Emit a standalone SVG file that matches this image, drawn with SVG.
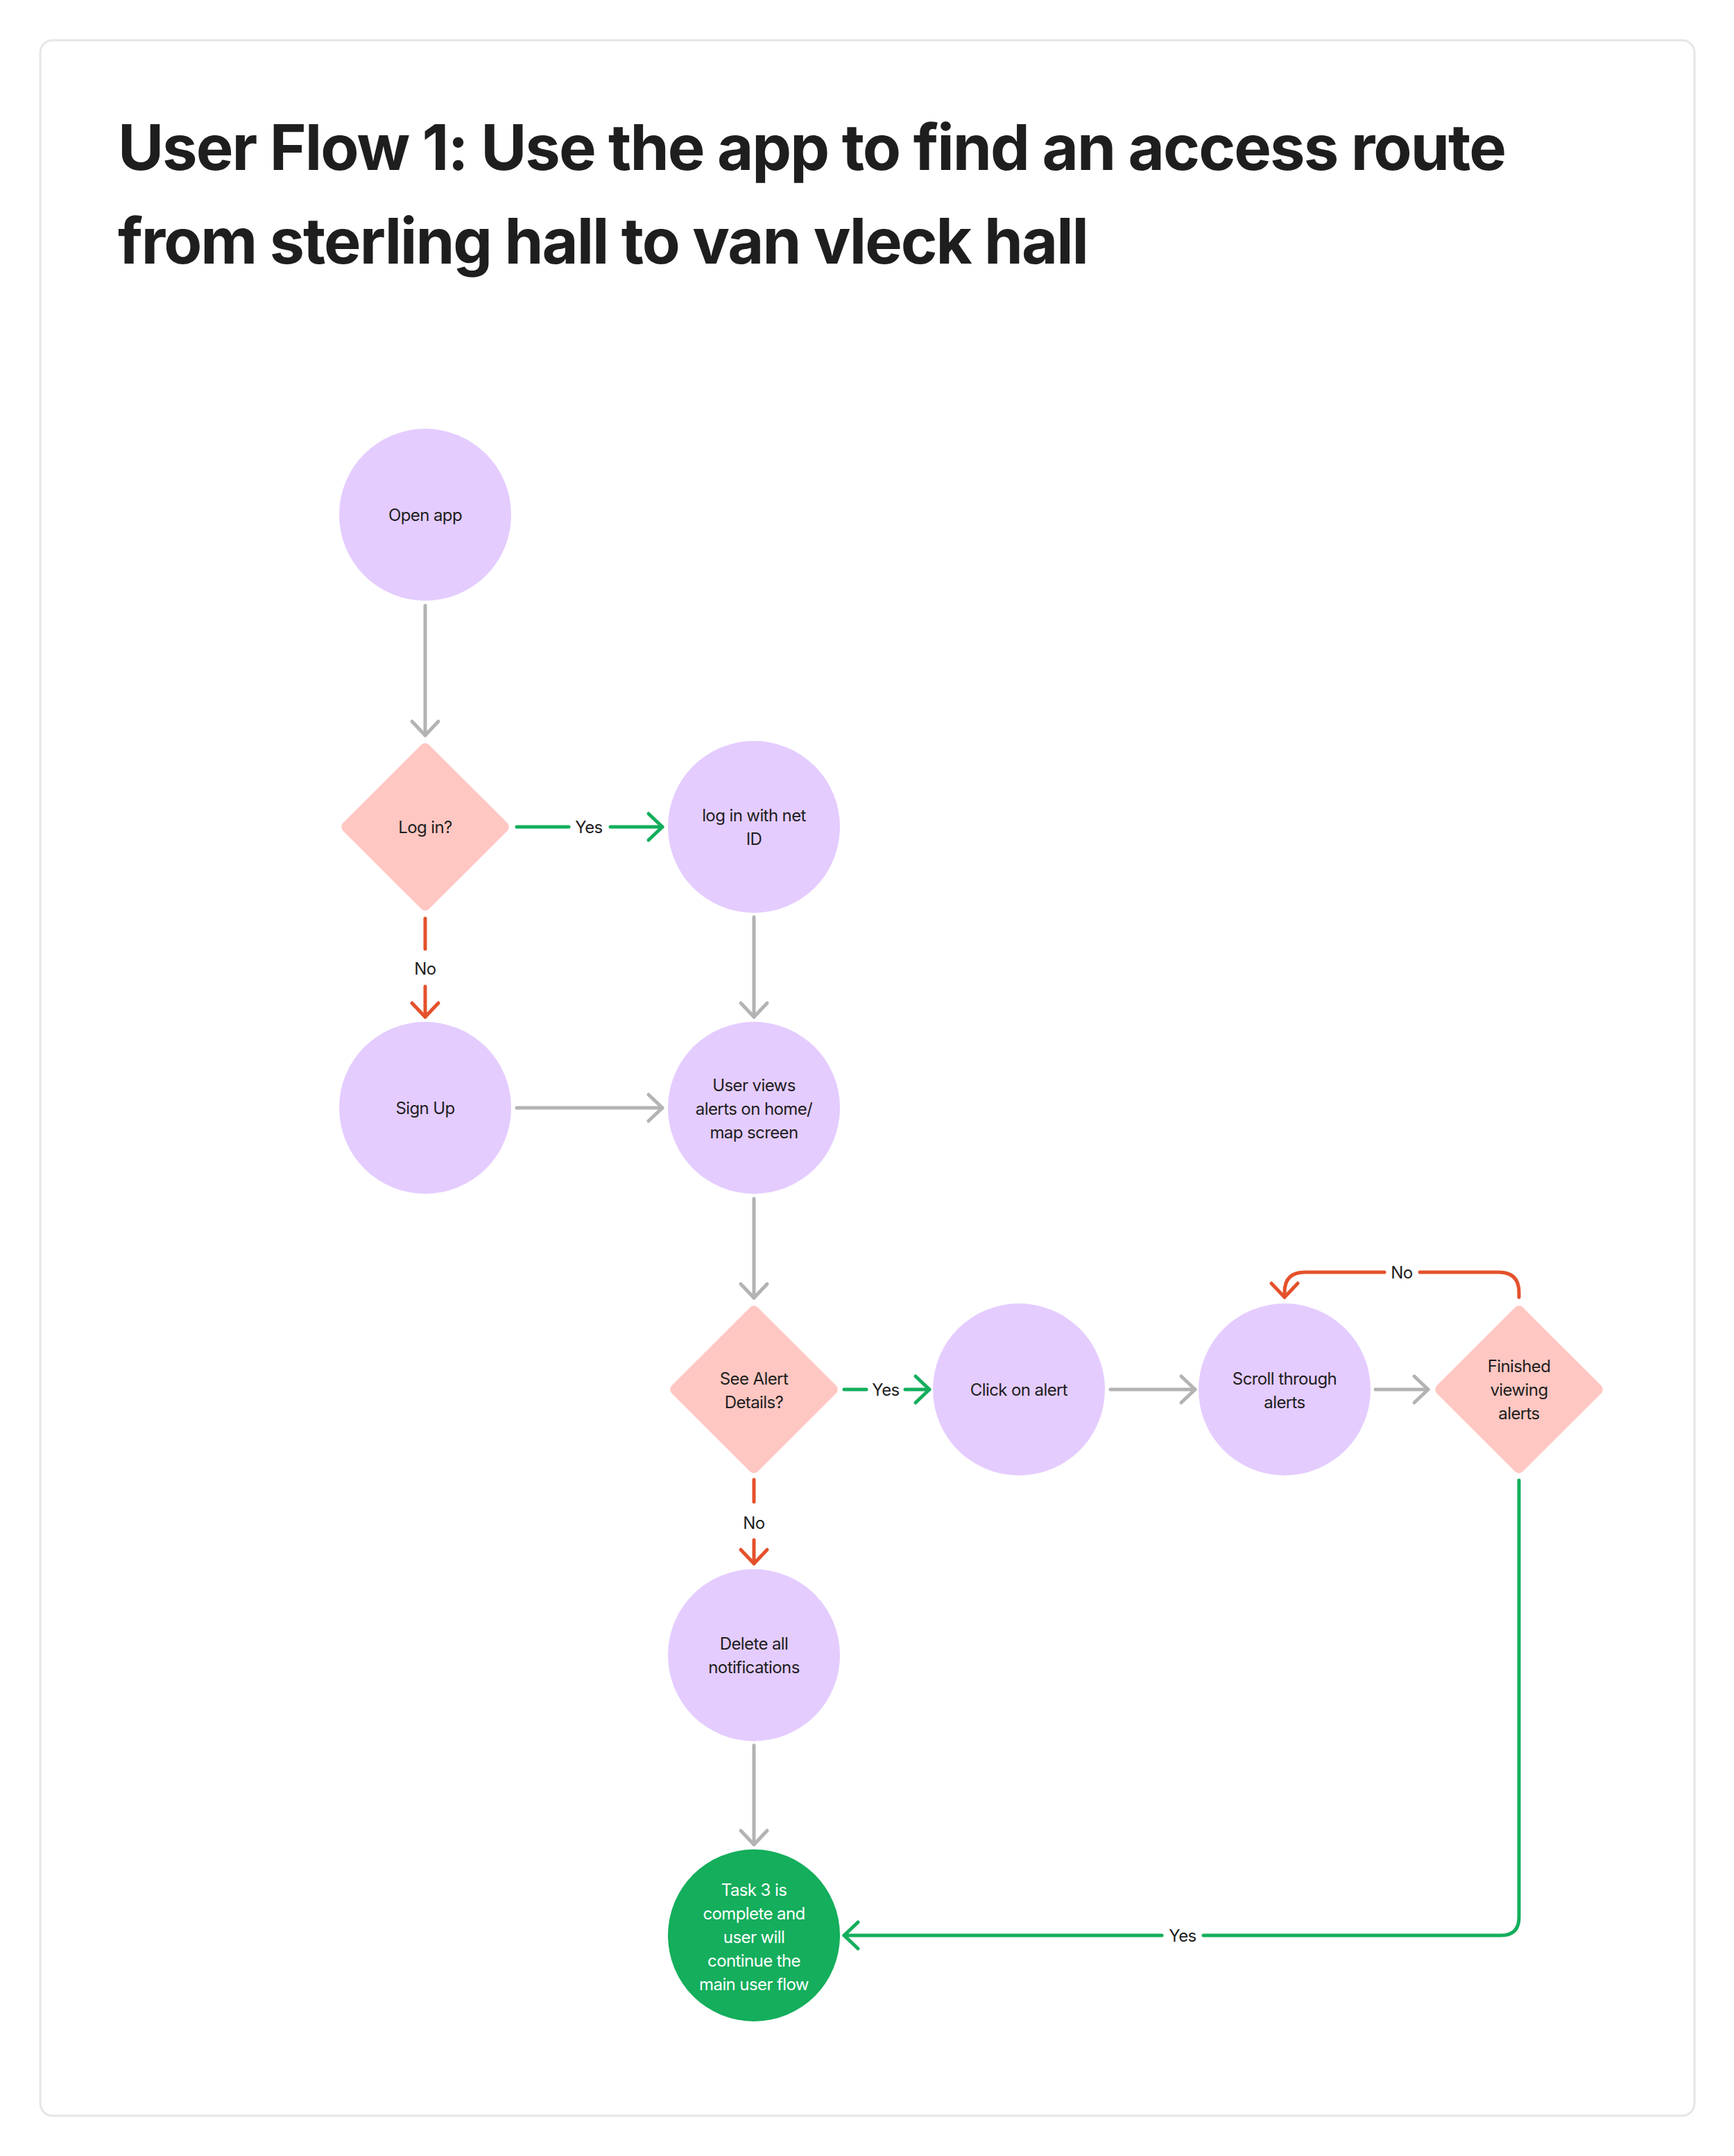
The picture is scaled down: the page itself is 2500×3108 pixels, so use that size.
<svg xmlns="http://www.w3.org/2000/svg" width="2500" height="3108" viewBox="0 0 2500 3108">
<defs>
<style>
.t{font-family:Inter,"Noto Sans","Liberation Sans",sans-serif;font-size:24px;letter-spacing:-0.6px;text-anchor:middle;fill:#1e1e1e}
.tw{fill:#ffffff}
.title{font-family:Inter,"Liberation Sans",sans-serif;font-weight:700;font-size:91px;letter-spacing:-2px;fill:#1e1e1e}
.proc{fill:#e4ccff}
.dec{fill:#ffc7c2}
.end{fill:#14ae5c}
.g{fill:none;stroke:#b3b3b3;stroke-width:5;stroke-linecap:round;stroke-linejoin:round}
.gr{fill:none;stroke:#14ae5c;stroke-width:5;stroke-linecap:round;stroke-linejoin:round}
.r{fill:none;stroke:#e4512b;stroke-width:5;stroke-linecap:round;stroke-linejoin:round}
</style>
<marker id="ag" markerUnits="userSpaceOnUse" markerWidth="50" markerHeight="50" viewBox="-25 -25 50 50" refX="0" refY="0" orient="auto"><path d="M-20 -19 L0 0 L-20 19" fill="none" stroke="#b3b3b3" stroke-width="5" stroke-linecap="round" stroke-linejoin="round"/></marker>
<marker id="agr" markerUnits="userSpaceOnUse" markerWidth="50" markerHeight="50" viewBox="-25 -25 50 50" refX="0" refY="0" orient="auto"><path d="M-20 -19 L0 0 L-20 19" fill="none" stroke="#14ae5c" stroke-width="5" stroke-linecap="round" stroke-linejoin="round"/></marker>
<marker id="ar" markerUnits="userSpaceOnUse" markerWidth="50" markerHeight="50" viewBox="-25 -25 50 50" refX="0" refY="0" orient="auto"><path d="M-20 -19 L0 0 L-20 19" fill="none" stroke="#e4512b" stroke-width="5" stroke-linecap="round" stroke-linejoin="round"/></marker>
</defs>
<rect x="0" y="0" width="2500" height="3108" fill="#ffffff"/>
<rect x="58" y="58" width="2385" height="2992" rx="18" fill="#ffffff" stroke="#e6e6e6" stroke-width="3"/>
<g id="title">
<text class="title" x="170" y="245" textLength="2000" lengthAdjust="spacingAndGlyphs">User Flow 1: Use the app to find an access route</text>
<text class="title" x="170" y="380" textLength="1398" lengthAdjust="spacingAndGlyphs">from sterling hall to van vleck hall</text>
</g>
<g id="connectors">
<path class="g" d="M613 873 L613 1060" marker-end="url(#ag)"/>
<path class="gr" d="M745 1192 L820 1192"/>
<path class="gr" d="M880 1192 L955 1192" marker-end="url(#agr)"/>
<text class="t" x="849" y="1201">Yes</text>
<path class="r" d="M613 1324 L613 1368"/>
<text class="t" x="613" y="1405">No</text>
<path class="r" d="M613 1422 L613 1466" marker-end="url(#ar)"/>
<path class="g" d="M1087 1322 L1087 1466" marker-end="url(#ag)"/>
<path class="g" d="M745 1597 L955 1597" marker-end="url(#ag)"/>
<path class="g" d="M1087 1728 L1087 1871" marker-end="url(#ag)"/>
<path class="gr" d="M1217 2003 L1249 2003"/>
<text class="t" x="1277" y="2012">Yes</text>
<path class="gr" d="M1305 2003 L1340 2003" marker-end="url(#agr)"/>
<path class="g" d="M1601 2003 L1723 2003" marker-end="url(#ag)"/>
<path class="g" d="M1983 2003 L2059 2003" marker-end="url(#ag)"/>
<path class="r" d="M2190 1870 L2190 1863 Q2190 1834 2161 1834 L2047 1834"/>
<text class="t" x="2021" y="1843">No</text>
<path class="r" d="M1996 1834 L1881 1834 Q1852 1834 1852 1863 L1852 1870" marker-end="url(#ar)"/>
<path class="r" d="M1087 2133 L1087 2165"/>
<text class="t" x="1087" y="2204">No</text>
<path class="r" d="M1087 2220 L1087 2254" marker-end="url(#ar)"/>
<path class="g" d="M1087 2516 L1087 2659" marker-end="url(#ag)"/>
<path class="gr" d="M2190 2134 L2190 2764 Q2190 2790 2164 2790 L1735 2790"/>
<text class="t" x="1705" y="2799">Yes</text>
<path class="gr" d="M1675 2790 L1217 2790" marker-end="url(#agr)"/>
</g>
<g id="open-app">
<circle class="proc" cx="613" cy="742" r="124"/>
<text class="t" x="613" y="751">Open app</text>
</g>
<g id="log-in">
<rect class="dec" x="-87.7" y="-87.7" width="175.4" height="175.4" rx="8" transform="translate(613 1192) rotate(45)"/>
<text class="t" x="613" y="1201">Log in?</text>
</g>
<g id="log-in-net-id">
<circle class="proc" cx="1087" cy="1192" r="124"/>
<text class="t" x="1087" y="1184">log in with net</text>
<text class="t" x="1087" y="1218">ID</text>
</g>
<g id="sign-up">
<circle class="proc" cx="613" cy="1597" r="124"/>
<text class="t" x="613" y="1606">Sign Up</text>
</g>
<g id="user-views">
<circle class="proc" cx="1087" cy="1597" r="124"/>
<text class="t" x="1087" y="1573">User views</text>
<text class="t" x="1087" y="1607">alerts on home/</text>
<text class="t" x="1087" y="1641">map screen</text>
</g>
<g id="see-alert">
<rect class="dec" x="-87.7" y="-87.7" width="175.4" height="175.4" rx="8" transform="translate(1087 2003) rotate(45)"/>
<text class="t" x="1087" y="1996">See Alert</text>
<text class="t" x="1087" y="2030">Details?</text>
</g>
<g id="click-alert">
<circle class="proc" cx="1469" cy="2003" r="124"/>
<text class="t" x="1469" y="2012">Click on alert</text>
</g>
<g id="scroll-alerts">
<circle class="proc" cx="1852" cy="2003" r="124"/>
<text class="t" x="1852" y="1996">Scroll through</text>
<text class="t" x="1852" y="2030">alerts</text>
</g>
<g id="finished">
<rect class="dec" x="-87.7" y="-87.7" width="175.4" height="175.4" rx="8" transform="translate(2190 2003) rotate(45)"/>
<text class="t" x="2190" y="1978">Finished</text>
<text class="t" x="2190" y="2012">viewing</text>
<text class="t" x="2190" y="2046">alerts</text>
</g>
<g id="delete-all">
<circle class="proc" cx="1087" cy="2386" r="124"/>
<text class="t" x="1087" y="2378">Delete all</text>
<text class="t" x="1087" y="2412">notifications</text>
</g>
<g id="task-complete">
<circle class="end" cx="1087" cy="2790" r="124"/>
<text class="t tw" x="1087" y="2733">Task 3 is</text>
<text class="t tw" x="1087" y="2767">complete and</text>
<text class="t tw" x="1087" y="2801">user will</text>
<text class="t tw" x="1087" y="2835">continue the</text>
<text class="t tw" x="1087" y="2869">main user flow</text>
</g>
</svg>
